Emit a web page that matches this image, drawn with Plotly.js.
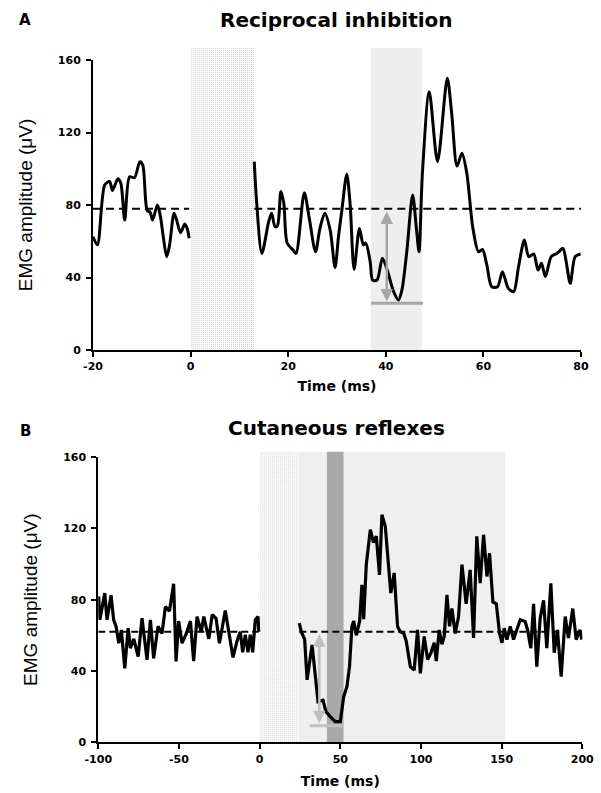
<!DOCTYPE html>
<html>
<head>
<meta charset="utf-8">
<script src="https://cdn.plot.ly/plotly-3.0.1.min.js"></script>
<style>html,body{margin:0;padding:0;background:#fff;}#chart{width:601px;height:793px;}</style>
</head>
<body>
<div id="chart"></div>
<script>
// ---------- Panel A: Reciprocal inhibition ----------
const aPreX = [-20, -19.1, -17.6, -16.6, -16.0, -14.9, -14.3, -13.5, -12.5, -11.5, -10.4, -9.8, -8.9, -8.3, -7.8, -6.8, -6.2, -5.6, -4.9, -4.3, -3.4, -2.9, -2.05, -1.2, -0.7, -0.3];
const aPreY = [62.5, 58, 91, 93, 88, 94.5, 92, 71.7, 95.6, 95, 103.9, 102, 77, 76, 71.7, 80, 74, 62.5, 51.5, 58, 75.4, 72, 64.7, 69.5, 67, 61.6];
const aPostX = [13.05, 13.5, 14.6, 16.0, 16.6, 17.3, 17.8, 18.5, 19.1, 19.8, 21.0, 21.6, 23.3, 24.3, 25.6, 26.5, 27.5, 28.6, 29.6, 30.3, 31.0, 32.0, 32.7, 33.5, 34.6, 35.4, 35.9, 36.8, 37.3, 38.2, 39.3, 40.3, 41.6, 42.6, 43.3, 44.3, 45.5, 46.3, 46.8, 47.5, 48.9, 50.6, 52.6, 53.5, 54.6, 55.6, 56.6, 57.8, 59.0, 59.8, 60.7, 61.7, 62.9, 63.9, 65.1, 66.2, 67.2, 68.4, 69.3, 70.3, 71.2, 71.9, 72.7, 73.9, 75.1, 76.3, 76.9, 77.8, 78.8, 79.9];
const aPostY = [103.9, 82.8, 53.3, 70.8, 75.4, 68, 68.5, 87.5, 81, 58.9, 55.2, 53.3, 86.8, 73, 54.2, 67, 75.4, 66.2, 45.5, 62.5, 77.2, 97, 80, 44.5, 67, 58, 59, 48.7, 38.6, 38.6, 50.6, 44.1, 32.2, 27.6, 33, 54.2, 85.5, 66.2, 54.2, 97.5, 142.5, 103.9, 149.9, 130.6, 101.5, 108.5, 97.5, 68, 54.2, 55.5, 46.9, 34.9, 34.9, 43.2, 34, 32.2, 46, 60.7, 51.5, 53, 44.1, 47.8, 40.5, 51.5, 53.3, 56.1, 49.7, 36.8, 51.5, 53];
const aBaseline = 78;
const aBaseX = [-20, -0.3, null, 13.05, 80];
const aStim = [0, 13];          // stimulus artefact window (ms)
const aWindow = [36.9, 47.4];   // analysis window (ms)
const aShadeTop = 166.6;
const aArrow = {x: 40.2, top: 77.2, bottom: 26.7};
const aMinLine = {x: [37, 47.6], y: 25.8};
const aTickVals = [-20, 0, 20, 40, 60, 80];
const aTickText = ['-20', '0', '20', '40', '60', '80'];

// ---------- Panel B: Cutaneous reflexes ----------
const bPreX = [-99.8, -99.0, -96.0, -94.6, -92.1, -90.5, -89, -87.3, -85.7, -83.6, -81.5, -80.1, -78.0, -75.3, -72.9, -69.8, -67.7, -65.7, -63.0, -60.5, -58.4, -55.9, -53.3, -51.8, -50.2, -48.1, -45.6, -42.9, -40.9, -38.8, -36.2, -34.6, -31.5, -29.4, -27.0, -24.9, -21.3, -19.2, -16.5, -14.0, -12.0, -10.5, -8.9, -7.2, -5.8, -4.3, -2.7, -1.0, -0.6];
const bPreY = [81.8, 68.7, 83.7, 68.7, 82.5, 68.7, 65, 55.6, 63, 41.5, 64, 52.8, 58, 48.1, 69.6, 46.2, 68.7, 47, 65, 61, 76.1, 73.6, 88.9, 45.3, 68, 55.6, 60.6, 68, 45.5, 70.5, 61.8, 70.5, 58, 71.5, 69.6, 55.6, 73.9, 61.8, 47.6, 56.8, 62, 50.5, 60.3, 50.5, 60.3, 50.5, 68.7, 70.5, 62];
const bPostX = [24.6, 25.8, 27.9, 29.4, 32.5, 34.2, 36.2, 39.3, 41.1, 43.8, 46.9, 50.0, 52.1, 54.1, 55.7, 57.2, 58.3, 59.9, 62.0, 63.4, 64.5, 66.1, 68.6, 70.6, 72.3, 74.3, 75.8, 77.9, 79.9, 81.3, 83.4, 85.5, 87.2, 89.3, 90.9, 93.4, 95.8, 97.9, 99.6, 102.0, 104.1, 106.2, 108.2, 109.5, 111.3, 113.0, 114.4, 116.1, 117.7, 119.2, 121.2, 123.3, 125.4, 128.0, 130.5, 132.6, 134.6, 136.7, 138.8, 140.9, 142.5, 144.6, 146.7, 148.7, 150.2, 151.6, 153.3, 155.3, 157.4, 159.5, 161.5, 164.6, 166.1, 168.1, 169.8, 171.8, 173.9, 176.0, 178.0, 180.5, 182.6, 184.6, 186.9, 189.4, 191.4, 194.1, 196.2, 198.6, 199.7];
const bPostY = [66.8, 62, 57.7, 35, 54.6, 38.8, 22.8, 23.6, 17.2, 14.4, 11.6, 11.6, 25.6, 31.2, 42.4, 64.9, 68, 60, 68, 88.3, 69, 99.6, 119.2, 112, 115.6, 93.9, 127.6, 121, 99.6, 83.7, 95, 64.9, 62, 61.2, 56.6, 42.4, 40.5, 63, 38.7, 59.4, 46.4, 50.2, 55.8, 45.5, 63, 55, 59.4, 82.7, 65, 75, 61, 70.5, 99.6, 77.7, 96.7, 58.5, 115.5, 89.2, 116.4, 93, 106, 78.7, 77.7, 61, 55.8, 64, 57.6, 65, 57.6, 63, 68.7, 67.7, 63, 52.8, 77.7, 42.4, 69.6, 79.6, 52.8, 89.2, 50.2, 63, 36.8, 70.5, 58.5, 75, 57.6, 63, 57.6];
const bBaseline = 62;
const bBaseX = [-100, -0.6, null, 24.6, 200];
const bStim = [0, 24.2];
const bWindow = [24.2, 152.2];
const bPeakWindow = [41.7, 52];
const bShadeTop = 163;
const bArrow = {x: 37, top: 61.5, bottom: 10.7};
const bMinLine = {x: [31, 52], y: 9.3};
const bTickVals = [-100, -50, 0, 50, 100, 150, 200];
const bTickText = ['-100', '-50', '0', '50', '100', '150', '200'];

const yTickVals = [0, 40, 80, 120, 160];

// ---------- layout geometry ----------
const W = 601, H = 793;
const xDomA = [93 / W, 581 / W];
const yDomA = [1 - 350 / H, 1 - 60 / H];
const xDomB = [98.3 / W, 582.3 / W];
const yDomB = [1 - 742.3 / H, 1 - 457 / H];
const FONT = 'Liberation Sans, Arial, sans-serif';
const WIDE = 'DejaVu Sans, Verdana, sans-serif';

function py(dom, v) { return dom[0] + v / 160 * (dom[1] - dom[0]); }

function stippleImage(xref, xr, dom, xRange, xDom, top) {
  const wpx = (xr[1] - xr[0]) / (xRange[1] - xRange[0]) * (xDom[1] - xDom[0]) * W;
  const hpx = (py(dom, top) - dom[0]) * H;
  const svg = "<svg xmlns='http://www.w3.org/2000/svg' width='" + Math.round(wpx) + "' height='" + Math.round(hpx) + "'>" +
    "<defs><pattern id='p' width='2' height='2' patternUnits='userSpaceOnUse'><rect width='2' height='2' fill='#ffffff'/><rect width='1' height='1' fill='#c4c4c4'/></pattern></defs>" +
    "<rect width='100%' height='100%' fill='url(#p)'/></svg>";
  return {
    source: 'data:image/svg+xml;charset=utf-8,' + encodeURIComponent(svg),
    xref: xref, yref: 'paper', x: xr[0], y: py(dom, top),
    sizex: xr[1] - xr[0], sizey: py(dom, top) - dom[0],
    xanchor: 'left', yanchor: 'top', sizing: 'stretch', layer: 'below'
  };
}

function rect(xref, xr, dom, top, color) {
  return {type: 'rect', xref: xref, yref: 'paper', x0: xr[0], x1: xr[1],
    y0: dom[0], y1: py(dom, top), fillcolor: color, line: {width: 0}, layer: 'below'};
}

const traces = [
  // Panel A
  {x: aBaseX, y: aBaseX.map(v => v === null ? null : aBaseline), xaxis: 'x', yaxis: 'y', mode: 'lines',
   line: {color: '#000', width: 2, dash: '8px,5px'}, connectgaps: false, hoverinfo: 'skip'},
  {x: aMinLine.x, y: [aMinLine.y, aMinLine.y], xaxis: 'x', yaxis: 'y', mode: 'lines',
   line: {color: '#a6a6a6', width: 3}, hoverinfo: 'skip'},
  {x: aPreX, y: aPreY, xaxis: 'x', yaxis: 'y', mode: 'lines',
   line: {color: '#000', width: 3, shape: 'spline', smoothing: 0.8}},
  {x: aPostX, y: aPostY, xaxis: 'x', yaxis: 'y', mode: 'lines',
   line: {color: '#000', width: 3, shape: 'spline', smoothing: 0.8}},
  // Panel B
  {x: bBaseX, y: bBaseX.map(v => v === null ? null : bBaseline), xaxis: 'x2', yaxis: 'y2', mode: 'lines',
   line: {color: '#000', width: 1.8, dash: '7px,4px'}, connectgaps: false, hoverinfo: 'skip'},
  {x: bMinLine.x, y: [bMinLine.y, bMinLine.y], xaxis: 'x2', yaxis: 'y2', mode: 'lines',
   line: {color: '#c0c0c0', width: 3}, hoverinfo: 'skip'},
  {x: bPreX, y: bPreY, xaxis: 'x2', yaxis: 'y2', mode: 'lines',
   line: {color: '#000', width: 3.2}},
  {x: bPostX, y: bPostY, xaxis: 'x2', yaxis: 'y2', mode: 'lines',
   line: {color: '#000', width: 3.2}}
];

function xAxis(dom, range, tickvals, ticktext, anchor, standoff) {
  return {domain: dom, range: range, tickmode: 'array', tickvals: tickvals, ticktext: ticktext,
    ticks: 'outside', ticklen: 5, tickwidth: 2,
    tickcolor: '#000', showline: true, linewidth: 2, linecolor: '#000', showgrid: false, zeroline: false,
    anchor: anchor, fixedrange: true, automargin: false,
    tickfont: {family: WIDE, size: 11, color: '#000', weight: 'bold'},
    title: {text: '<b>Time (ms)</b>', font: {family: WIDE, size: 14, color: '#000'}, standoff: standoff}};
}
function yAxis(dom, anchor) {
  return {domain: dom, range: [0, 160], tickvals: yTickVals, ticks: 'outside', ticklen: 5, tickwidth: 2,
    tickcolor: '#000', showline: true, linewidth: 2, linecolor: '#000', showgrid: false, zeroline: false,
    anchor: anchor, fixedrange: true, automargin: false, ticklabelstandoff: 3,
    tickfont: {family: WIDE, size: 11, color: '#000', weight: 'bold'},
    title: {text: 'EMG amplitude (μV)', font: {family: FONT, size: 19, color: '#000'}, standoff: 20}};
}

function arrowAnn(xref, yref, a, color) {
  return {xref: xref, yref: yref, axref: xref, ayref: yref, x: a.x, y: a.bottom, ax: a.x, ay: a.top,
    text: '', showarrow: true, arrowhead: 2, startarrowhead: 2, arrowside: 'end+start',
    arrowsize: 1, startarrowsize: 1, arrowwidth: 2.5, arrowcolor: color};
}

const layout = {
  width: W, height: H, margin: {l: 0, r: 0, t: 0, b: 0},
  paper_bgcolor: '#fff', plot_bgcolor: 'rgba(0,0,0,0)', showlegend: false,
  xaxis: xAxis(xDomA, [-20, 80], aTickVals, aTickText, 'y', 9),
  yaxis: yAxis(yDomA, 'x'),
  xaxis2: xAxis(xDomB, [-100, 200], bTickVals, bTickText, 'y2', 12),
  yaxis2: yAxis(yDomB, 'x2'),
  shapes: [
    rect('x', aWindow, yDomA, aShadeTop, '#eeeeee'),
    rect('x2', bWindow, yDomB, bShadeTop, '#efefef'),
    rect('x2', bPeakWindow, yDomB, bShadeTop, '#a9a9a9')
  ],
  images: [
    stippleImage('x', aStim, yDomA, [-20, 80], xDomA, aShadeTop),
    stippleImage('x2', bStim, yDomB, [-100, 200], xDomB, bShadeTop)
  ],
  annotations: [
    {xref: 'paper', yref: 'paper', x: 25 / W, y: 1 - 19.5 / H, text: '<b>A</b>', showarrow: false,
     xanchor: 'center', yanchor: 'middle', font: {family: WIDE, size: 15, color: '#000'}},
    {xref: 'paper', yref: 'paper', x: 337 / W, y: 1 - 19.5 / H, text: '<b>Reciprocal inhibition</b>', showarrow: false,
     xanchor: 'center', yanchor: 'middle', font: {family: WIDE, size: 20, color: '#000'}},
    {xref: 'paper', yref: 'paper', x: 25 / W, y: 1 - 431 / H, text: '<b>B</b>', showarrow: false,
     xanchor: 'center', yanchor: 'middle', font: {family: WIDE, size: 15, color: '#000'}},
    {xref: 'paper', yref: 'paper', x: 337 / W, y: 1 - 428 / H, text: '<b>Cutaneous reflexes</b>', showarrow: false,
     xanchor: 'center', yanchor: 'middle', font: {family: WIDE, size: 20, color: '#000'}},
    arrowAnn('x', 'y', aArrow, '#a6a6a6'),
    arrowAnn('x2', 'y2', bArrow, '#bfbfbf')
  ]
};

Plotly.newPlot('chart', traces, layout, {staticPlot: true, displayModeBar: false});
</script>
</body>
</html>
